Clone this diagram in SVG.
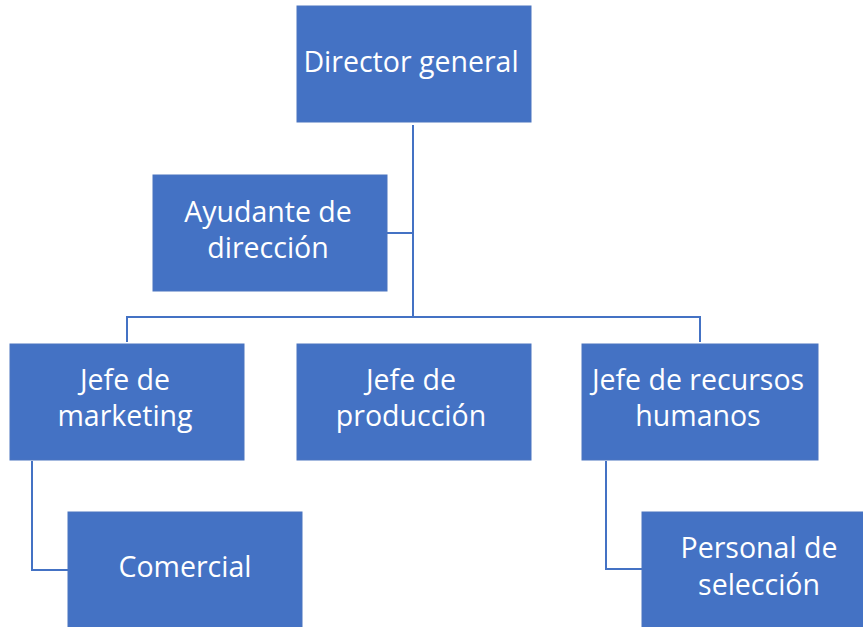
<svg xmlns="http://www.w3.org/2000/svg" width="863" height="627" viewBox="0 0 863 627">
<style>
.box{fill:#4472C4;stroke:#4A74C0;stroke-width:1}
.lbl{font-family:"Open Sans","Noto Sans","DejaVu Sans",sans-serif;font-size:28.5px;fill:#FFFFFF;text-anchor:middle;font-variant-ligatures:none}
.con{fill:none;stroke:#4472C4;stroke-width:2}
</style>
<rect width="863" height="627" fill="#FFFFFF"/>
<g id="connectors">
<path class="con" d="M413,125 V317"/>
<path class="con" d="M387,233 H413"/>
<path class="con" d="M127,342 V317 H700 V342"/>
<path class="con" d="M32,461 V570 H68"/>
<path class="con" d="M606,461 V569 H642"/>
</g>
<g id="director">
<rect class="box" x="297" y="6" width="234" height="116"/>
<text class="lbl" x="411" y="72">Director general</text>
</g>
<g id="ayudante">
<rect class="box" x="153" y="175" width="234" height="116"/>
<text class="lbl" x="268" y="222">Ayudante de</text>
<text class="lbl" x="268" y="258">dirección</text>
</g>
<g id="marketing">
<rect class="box" x="10" y="344" width="234" height="116"/>
<text class="lbl" x="125" y="390">Jefe de</text>
<text class="lbl" x="125" y="426">marketing</text>
</g>
<g id="produccion">
<rect class="box" x="297" y="344" width="234" height="116"/>
<text class="lbl" x="411" y="390">Jefe de</text>
<text class="lbl" x="411" y="426">producción</text>
</g>
<g id="rrhh">
<rect class="box" x="582" y="344" width="236" height="116"/>
<text class="lbl" x="698" y="390">Jefe de recursos</text>
<text class="lbl" x="698" y="426">humanos</text>
</g>
<g id="comercial">
<rect class="box" x="68" y="512" width="234" height="120"/>
<text class="lbl" x="185" y="577">Comercial</text>
</g>
<g id="personal">
<rect class="box" x="642" y="512" width="234" height="120"/>
<text class="lbl" x="759" y="558">Personal de</text>
<text class="lbl" x="759" y="595">selección</text>
</g>
</svg>
